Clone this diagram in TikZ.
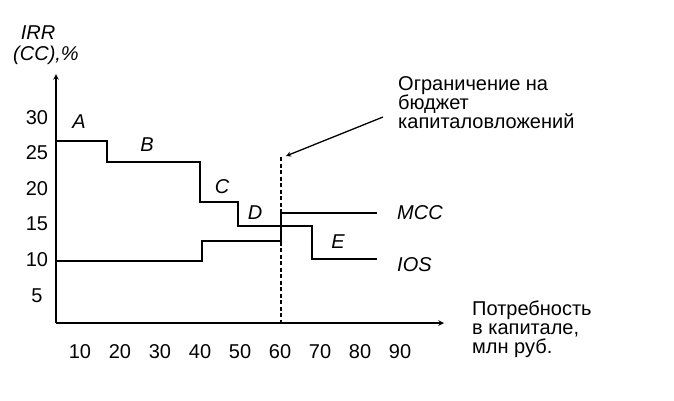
\documentclass[tikz,border=0pt]{standalone}
\usepackage{fontspec}
\setmainfont{Liberation Sans}
\usetikzlibrary{arrows,positioning}

\begin{document}
\begin{tikzpicture}[
    x=1pt, y=-1pt,
    axis/.style={draw=black, line width=1.5pt, -stealth},
    curve/.style={draw=black, line width=1.5pt},
    budget/.style={draw=black, line width=1.2pt, dash pattern=on 4pt off 2.5pt},
    tick/.style={font=\fontsize{20}{19}\selectfont, inner sep=0pt},
    lbl/.style={font=\fontsize{20}{19}\selectfont\itshape, inner sep=0pt},
    note/.style={font=\fontsize{20}{19}\selectfont, align=left, inner sep=0pt}]

  \useasboundingbox (0,0) rectangle (674,400);

  % axes
  \coordinate (origin) at (56,323);
  \coordinate (ytop) at (56,74);
  \coordinate (xend) at (444,323);
  \draw[axis] (origin) -- (ytop);
  \draw[axis] (origin) -- (xend);

  \foreach \v in {5,10,...,30}
    \node[tick] (y\v) at (37,331-7.12*\v) {\v};
  \foreach \v in {10,20,...,90}
    \node[tick] (x\v) at (40+4*\v,352) {\v};

  \node[lbl] (irr) at (38,33) {IRR};
  \node[lbl] (cc) at (46,55) {(CC),\%};

  % IOS
  \draw[curve] (56,141) -- (107,141) -- (107,162) -- (200,162) -- (200,202)
    -- (238,202) -- (238,226) -- (312,226) -- (312,259) -- (377,259);
  % MCC
  \draw[curve] (56,261) -- (202,261) -- (202,241) -- (281,241) -- (281,213)
    -- (377,213);

  \node[lbl] (pa) at (79,122) {A};
  \node[lbl] (pb) at (147,145) {B};
  \node[lbl] (pc) at (222,187) {C};
  \node[lbl] (pd) at (255,213) {D};
  \node[lbl] (pe) at (338,242) {E};
  \node[lbl, anchor=west] (mcc) at (397,213) {MCC};
  \node[lbl, anchor=west] (ios) at (397,265) {IOS};

  % budget limit
  \coordinate (ltop) at (281,157);
  \coordinate (lbot) at (281,323);
  \draw[budget] (ltop) -- (lbot);

  \node[note, anchor=north west] (limit) at (398,76)
    {Ограничение на\\бюджет\\капиталовложений};
  \coordinate (tail) at (383,117);
  \coordinate (head) at (286,156);
  \draw[axis, line width=1.3pt] (tail) -- (head);

  \node[note, anchor=north west] (need) at (472,301)
    {Потребность\\в капитале,\\млн руб.};
\end{tikzpicture}
\end{document}
